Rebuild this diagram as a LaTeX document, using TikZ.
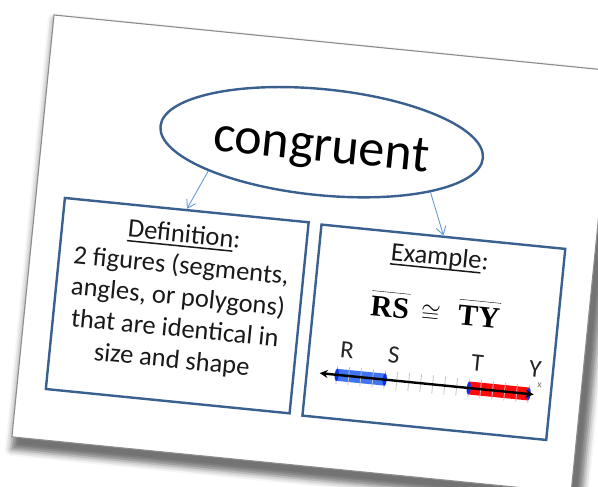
\documentclass[tikz,border=0pt]{standalone}
\usepackage{fontspec}
\setmainfont{Carlito}
\newfontfamily\eqfont{Liberation Serif}
\usetikzlibrary{arrows.meta,shapes.geometric,shadows.blur}
\definecolor{bdr}{HTML}{3A6090}
\definecolor{lnk}{HTML}{6A98D6}
\definecolor{segblue}{HTML}{3F74F2}
\definecolor{segred}{HTML}{FF0A0A}
\definecolor{dotblue}{HTML}{1030F0}
\definecolor{tickgray}{HTML}{C4C4C4}
\newcommand{\ulword}[1]{\setbox0\hbox{#1}\rlap{\rule[-4.5pt]{\wd0}{1.5pt}}#1}
\newcommand{\segname}[1]{$\overline{\mbox{\eqfont\bfseries#1\rule{0pt}{24pt}}}$}
\begin{document}
\begin{tikzpicture}[x=1pt,y=1pt,>=Stealth,
  box/.style={draw=bdr,line width=2.4pt,minimum width=245,minimum height=192,inner sep=0},
  txt/.style={font=\fontsize{26.5}{31.5}\selectfont,align=center,inner sep=0,text=black!90},
  arr/.style={draw=lnk,line width=.9pt,-{Straight Barb[length=8pt,width=10pt]}},
  ptlbl/.style={font=\fontsize{25}{28}\selectfont,text=black!85,anchor=base,inner sep=0}]
\useasboundingbox (0,0) rectangle (598,487);
\clip (0,0) rectangle (598,487);
\begin{scope}[shift={(54,472)},rotate=-5.7,transform shape]
\fill[white,blur shadow={shadow xshift=5pt,shadow yshift=-9pt,shadow scale=1.02,shadow blur radius=6pt,shadow opacity=55}] (0,0) rectangle (562,-424);
\draw[black!45,line width=1.1pt] (0,0) rectangle (562,-424);
\node[ellipse,draw=bdr,line width=2.4pt,minimum width=324,minimum height=106,inner sep=0,font=\fontsize{52}{60}\selectfont,text height=40pt,text depth=2pt] (cong) at (279,-100) {congruent};
\node[box] (defbox) at (151.5,-277) {};
\node[box] (exbox) at (409.5,-278) {};
\draw[arr] (cong.200) -- (defbox.north);
\draw[arr] (cong.-19) -- (exbox.north);
\node[txt,anchor=north] (deftxt) at (151.5,-195) {\ulword{Definition}:\\2 figures (segments,\\angles, or polygons)\\that are identical in\\size and shape};
\node[txt,anchor=base] (extxt) at (408,-210.5) {\ulword{Example}:};
\node[anchor=base,inner sep=0,font=\fontsize{30}{36}\selectfont] (eq) at (409,-268) {\segname{RS}\hspace{12pt}{\fontsize{24}{28}\selectfont$\cong$}\hspace{18pt}\segname{TY}};
\fill[segblue] (317.1,-336) rectangle (365.3,-324);
\fill[segred] (449.7,-336.5) rectangle (509.9,-323.5);
\foreach \k in {0,...,16}\draw[tickgray,line width=.8pt] (317.1+\k*12.05,-339) -- ++(0,18);
\foreach \u in {317.1,365.3,449.7,509.9}\fill[dotblue] (\u,-330) ellipse (2 and 6.5);
\draw[line width=2.4pt,{Stealth[length=8pt,width=8pt]}-{Stealth[length=8pt,width=8pt]}] (300,-330) -- (515,-330);
\node[ptlbl] (lR) at (325,-312.5) {R};\node[ptlbl] (lS) at (372,-312.5) {S};
\node[ptlbl] (lT) at (456,-312.5) {T};\node[ptlbl] (lY) at (514,-312.5) {Y};
\node[font=\fontsize{10}{12}\selectfont,text=black!55,inner sep=0] (lx) at (520,-320) {x};
\end{scope}
\end{tikzpicture}
\end{document}
